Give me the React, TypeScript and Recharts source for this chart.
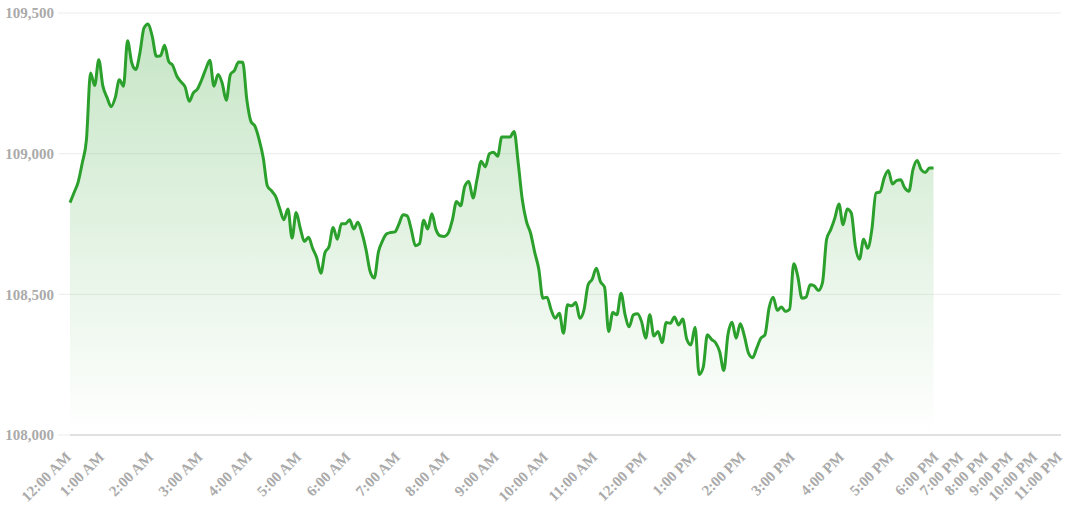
import React from 'react';
import { AreaChart, Area, XAxis, YAxis, CartesianGrid } from 'recharts';

// 5-minute closes from 12:20 AM through 5:50 PM
const prices = [
  108826, 108862, 108900, 108968, 109050, 109287, 109242, 109334, 109240, 109200,
  109167, 109199, 109263, 109240, 109401, 109324, 109299, 109358, 109447, 109461,
  109417, 109346, 109348, 109385, 109328, 109313, 109275, 109255, 109237, 109186,
  109216, 109230, 109262, 109300, 109332, 109240, 109281, 109251, 109190, 109281,
  109296, 109326, 109325, 109192, 109115, 109097, 109050, 108985, 108885, 108868,
  108848, 108805, 108765, 108803, 108700, 108791, 108735, 108688, 108703, 108664,
  108630, 108575, 108648, 108670, 108738, 108696, 108751, 108751, 108765, 108732,
  108756, 108718, 108658, 108581, 108558, 108650, 108690, 108715, 108720, 108722,
  108750, 108783, 108779, 108730, 108673, 108680, 108763, 108732, 108786, 108730,
  108708, 108706, 108718, 108765, 108830, 108815, 108884, 108901, 108842, 108910,
  108973, 108953, 109000, 109005, 108991, 109059, 109059, 109059, 109079, 108967,
  108836, 108759, 108718, 108650, 108590, 108486, 108490, 108445, 108415, 108433,
  108362, 108463, 108459, 108471, 108415, 108445, 108534, 108554, 108593, 108545,
  108525, 108368, 108435, 108427, 108504, 108427, 108385, 108427, 108431, 108403,
  108344, 108427, 108352, 108368, 108328, 108400, 108397, 108419, 108391, 108412,
  108340, 108320, 108383, 108215, 108241, 108356, 108340, 108328, 108296, 108229,
  108356, 108401, 108344, 108395, 108352, 108291, 108275, 108309, 108344, 108356,
  108451, 108490, 108443, 108455, 108439, 108447, 108609, 108563, 108486, 108490,
  108534, 108530, 108514, 108542, 108696, 108730, 108771, 108821, 108747, 108803,
  108789, 108670, 108625, 108696, 108664, 108730, 108860, 108864, 108914, 108940,
  108892, 108904, 108907, 108878, 108866, 108943, 108976, 108943, 108933, 108949,
  108949,
];

const hourLabels = [
  '12:00 AM', '1:00 AM', '2:00 AM', '3:00 AM', '4:00 AM', '5:00 AM',
  '6:00 AM', '7:00 AM', '8:00 AM', '9:00 AM', '10:00 AM', '11:00 AM',
  '12:00 PM', '1:00 PM', '2:00 PM', '3:00 PM', '4:00 PM', '5:00 PM',
  '6:00 PM', '7:00 PM', '8:00 PM', '9:00 PM', '10:00 PM', '11:00 PM',
];

const yTicks = [108000, 108500, 109000, 109500];

const FONT = "'Liberation Serif', 'Times New Roman', serif";
const GREEN = '#2ca02c';

function clock(min: number) {
  const h = Math.floor(min / 60);
  const m = min % 60;
  const h12 = h % 12 === 0 ? 12 : h % 12;
  return `${h12}:${String(m).padStart(2, '0')} ${h < 12 ? 'AM' : 'PM'}`;
}

const hourOf = (t: string) => t.replace(/:\d\d /, ':00 ');

const data: { time: string; price: number | null }[] = [];
prices.forEach((p, i) => data.push({ time: clock(20 + i * 5), price: p }));
// empty evening slots, 10 min apart
for (let m = 18 * 60; m <= 23 * 60; m += 10) data.push({ time: clock(m), price: null });

const xTicks = hourLabels.map((h) => data.find((d) => hourOf(d.time) === h)!.time);

const XTick = ({ x, y, payload }: any) => (
  <g transform={`translate(${x + 2},${y + 23}) rotate(-45)`}>
    <text x={0} y={0} textAnchor="end" fill="#aaa" fontSize={15} fontWeight="bold" fontFamily={FONT}>
      {hourOf(payload.value)}
    </text>
  </g>
);

export default function App() {
  return (
    <div style={{ position: 'absolute', left: 0, top: 0 }}>
      <AreaChart width={1078} height={510} data={data} margin={{ top: 13, right: 17, left: 0, bottom: 0 }}>
        <defs>
          <linearGradient id="priceFill" x1="0" y1="0" x2="0" y2="1">
            <stop offset="0%" stopColor={GREEN} stopOpacity={0.45} />
            <stop offset="100%" stopColor={GREEN} stopOpacity={0} />
          </linearGradient>
        </defs>
        <CartesianGrid vertical={false} stroke="#ececec" />
        <XAxis
          dataKey="time"
          ticks={xTicks}
          interval={0}
          tick={<XTick />}
          tickLine={false}
          tickSize={0}
          tickMargin={0}
          height={75}
          axisLine={{ stroke: '#ccc' }}
        />
        <YAxis
          width={70}
          domain={[108000, 109500]}
          ticks={yTicks}
          axisLine={false}
          tickSize={12}
          tickMargin={4}
          tickLine={{ stroke: '#ececec' }}
          tickFormatter={(v: number) => v.toLocaleString('en-US')}
          tick={{ fill: '#aaa', fontSize: 15, fontWeight: 'bold', fontFamily: FONT }}
        />
        <Area
          type="monotone"
          dataKey="price"
          stroke={GREEN}
          strokeWidth={3}
          fill="url(#priceFill)"
          dot={false}
          activeDot={false}
          isAnimationActive={false}
        />
      </AreaChart>
    </div>
  );
}
